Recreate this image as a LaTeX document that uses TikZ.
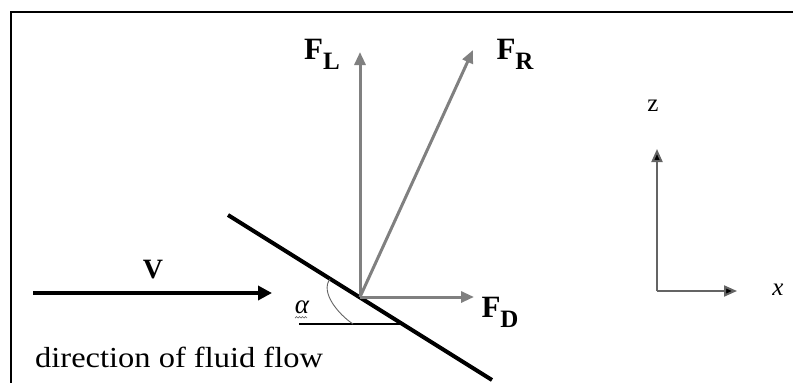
\documentclass[tikz,border=0pt]{standalone}
\usepackage{fontspec}
\setmainfont{Liberation Serif}
\usetikzlibrary{arrows.meta}
\definecolor{forcegray}{RGB}{128,128,128}
\definecolor{axisgray}{RGB}{100,100,100}
\begin{document}
\begin{tikzpicture}[x=1pt,y=-1pt,
  force/.style={draw=forcegray, line width=3pt, -{Triangle[length=13pt,width=11pt]}},
  flow/.style={draw=black, line width=4pt, -{Triangle[length=14pt,width=14pt]}},
  axis/.style={draw=axisgray, line width=2pt, -{Triangle[length=13pt,width=11pt,fill=black]}},
  flabel/.style={font=\fontsize{31}{34}\selectfont\bfseries, inner sep=0pt},
  txt/.style={font=\fontsize{29}{32}\selectfont, inner sep=0pt}]
\useasboundingbox (0,0) rectangle (793,383);
% frame
\draw[line width=2pt] (11,383) -- (11,12) -- (793,12);
% plate
\coordinate (P1) at (228,215);
\coordinate (P2) at (492,380);
\coordinate (O) at (360,297);
\draw[line width=4pt] (P1) -- (P2);
% forces
\coordinate (FLend) at (360,52);
\coordinate (FRend) at (473,50);
\coordinate (FDend) at (474,297);
\draw[force] (O) -- (FLend);
\draw[force] (O) -- (FRend);
\draw[force] (O) -- (FDend);
\node[flabel] (FL) at (322,54) {F\raisebox{-0.32em}{\fontsize{25}{27}\selectfont L}};
\node[flabel] (FR) at (515,54) {F\raisebox{-0.32em}{\fontsize{25}{27}\selectfont R}};
\node[flabel] (FD) at (500,312) {F\raisebox{-0.32em}{\fontsize{25}{27}\selectfont D}};
% flow
\coordinate (Vs) at (33,293);
\coordinate (Ve) at (272,293);
\draw[flow] (Vs) -- (Ve);
\node[flabel, font=\fontsize{28}{30}\selectfont\bfseries] (V) at (153,270) {V};
\node[txt, anchor=base west] (dir) at (35,367) {\scalebox{1.12}[1]{direction of fluid flow}};
% angle
\coordinate (H1) at (299,324);
\coordinate (H2) at (403,324);
\draw[line width=1.6pt] (H1) -- (H2);
\coordinate (A1) at (330,279);
\coordinate (A2) at (353,324);
\draw[line width=0.9pt, draw=axisgray] (A1) .. controls (320,292) and (338,314) .. (A2);
\node[txt, font=\fontsize{27}{30}\selectfont\itshape] (alpha) at (302,307) {α};
\coordinate (S1) at (295,318);
\draw[line width=0.7pt, draw=axisgray] (S1) -- ++(1.5,-1.5) -- ++(1.5,1.5) -- ++(1.5,-1.5) -- ++(1.5,1.5) -- ++(1.5,-1.5) -- ++(1.5,1.5) -- ++(1.5,-1.5) -- ++(1.5,1.5);
% axes
\coordinate (Ao) at (657,291);
\coordinate (Az) at (657,149);
\coordinate (Ax) at (737,291);
\draw[axis] (Ao) -- (Az);
\draw[axis] (Ao) -- (Ax);
\node[txt, font=\fontsize{25}{28}\selectfont] (z) at (653,106) {z};
\node[txt, font=\fontsize{25}{28}\selectfont\itshape] (x) at (778,290) {x};
\end{tikzpicture}
\end{document}
